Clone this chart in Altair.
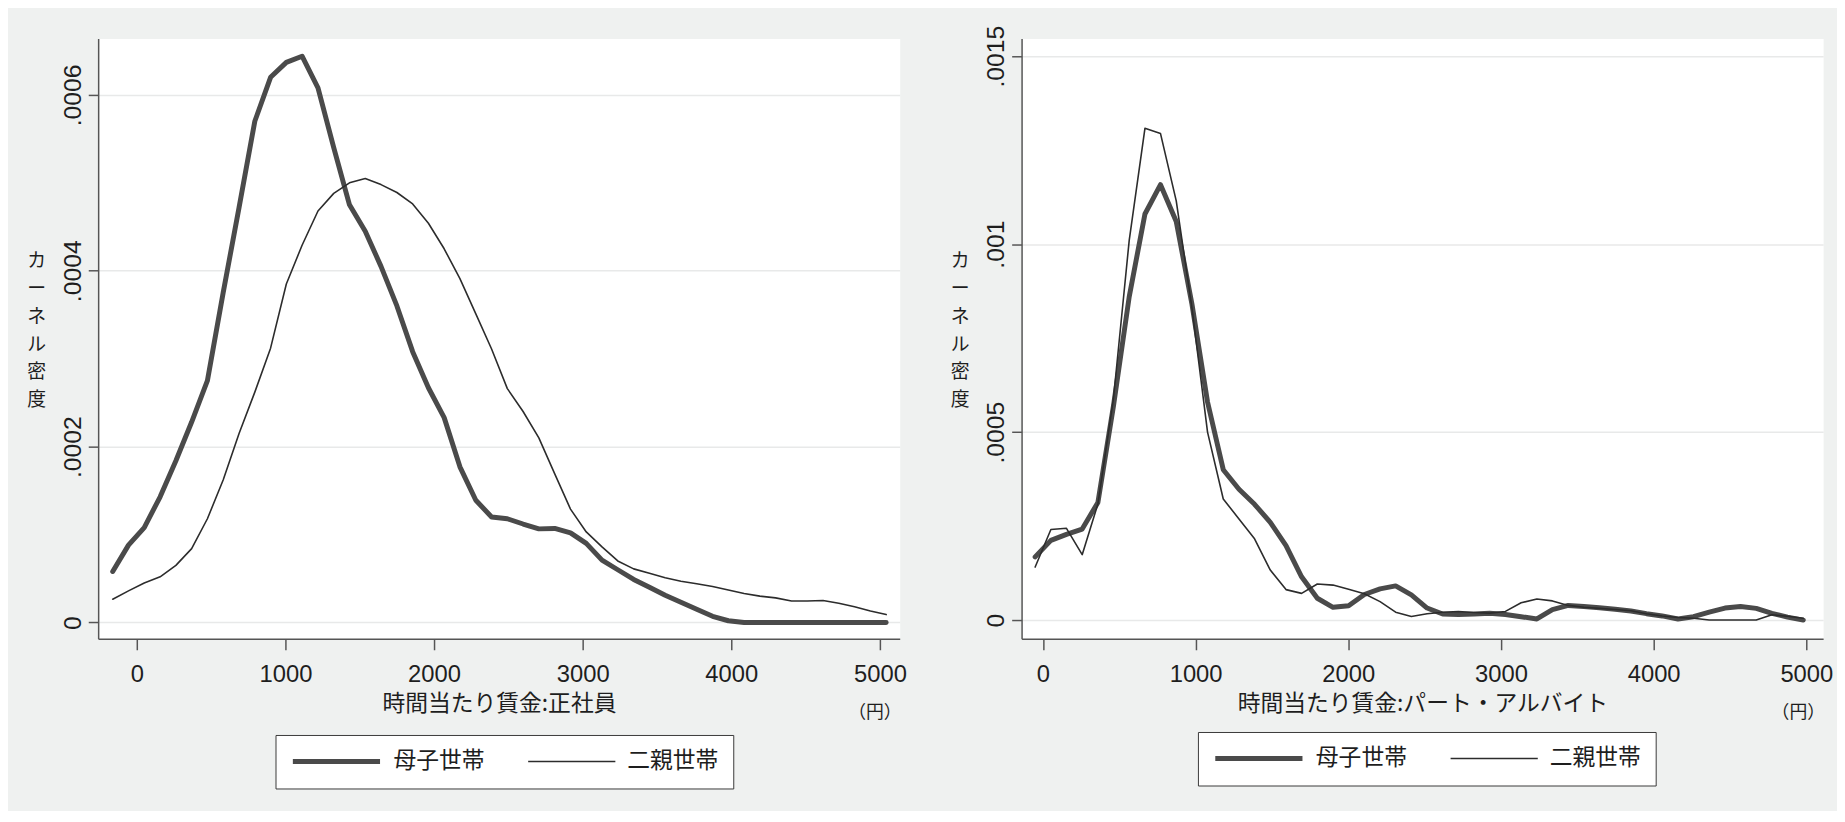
import altair as alt
import pandas as pd

SERIES = ["母子世帯", "二親世帯"]

# ---- left panel: 正社員 ----
x_full = [-162, -56, 50, 157, 263, 369, 475, 581, 688, 794,
          900, 1006, 1112, 1219, 1325, 1431, 1537, 1643, 1750, 1856,
          1962, 2068, 2174, 2281, 2387, 2493, 2599, 2705, 2812, 2918,
          3024, 3130, 3236, 3343, 3449, 3555, 3661, 3767, 3874, 3980,
          4086, 4192, 4298, 4405, 4511, 4617, 4723, 4829, 4936, 5042]
full_mother = [5.8e-5, 8.8e-5, 1.08e-4, 1.43e-4, 1.84e-4, 2.28e-4, 2.75e-4, 3.75e-4, 4.72e-4, 5.70e-4,
               6.20e-4, 6.37e-4, 6.44e-4, 6.08e-4, 5.40e-4, 4.75e-4, 4.45e-4, 4.05e-4, 3.60e-4, 3.08e-4,
               2.67e-4, 2.33e-4, 1.77e-4, 1.39e-4, 1.20e-4, 1.18e-4, 1.12e-4, 1.065e-4, 1.07e-4, 1.02e-4,
               9.0e-5, 7.1e-5, 6.0e-5, 4.9e-5, 4.0e-5, 3.1e-5, 2.3e-5, 1.5e-5, 7e-6, 2e-6,
               0, 0, 0, 0, 0, 0, 0, 0, 0, 0]
full_two = [2.65e-5, 3.6e-5, 4.5e-5, 5.2e-5, 6.5e-5, 8.4e-5, 1.18e-4, 1.62e-4, 2.15e-4, 2.62e-4,
            3.12e-4, 3.85e-4, 4.29e-4, 4.68e-4, 4.88e-4, 5.00e-4, 5.05e-4, 4.98e-4, 4.89e-4, 4.76e-4,
            4.54e-4, 4.25e-4, 3.91e-4, 3.51e-4, 3.11e-4, 2.66e-4, 2.40e-4, 2.10e-4, 1.69e-4, 1.29e-4,
            1.03e-4, 8.6e-5, 7.0e-5, 6.1e-5, 5.6e-5, 5.1e-5, 4.7e-5, 4.4e-5, 4.1e-5, 3.7e-5,
            3.3e-5, 3.0e-5, 2.8e-5, 2.45e-5, 2.45e-5, 2.5e-5, 2.2e-5, 1.8e-5, 1.3e-5, 9e-6]

# ---- right panel: パート・アルバイト ----
x_part = [-51, 52, 154, 257, 360, 462, 565, 668, 770, 873,
          976, 1078, 1181, 1284, 1386, 1489, 1592, 1694, 1797, 1900,
          2002, 2105, 2208, 2310, 2413, 2516, 2618, 2721, 2824, 2926,
          3029, 3132, 3235, 3337, 3440, 3543, 3645, 3748, 3851, 3953,
          4056, 4159, 4261, 4364, 4467, 4569, 4672, 4775, 4877, 4980]
part_mother = [1.68e-4, 2.12e-4, 2.28e-4, 2.42e-4, 3.13e-4, 5.7e-4, 8.6e-4, 1.08e-3, 1.158e-3, 1.06e-3,
               8.4e-4, 5.8e-4, 4.0e-4, 3.48e-4, 3.08e-4, 2.6e-4, 1.98e-4, 1.15e-4, 5.8e-5, 3.4e-5,
               3.8e-5, 6.8e-5, 8.3e-5, 9.1e-5, 6.7e-5, 3.2e-5, 1.6e-5, 1.5e-5, 1.6e-5, 1.8e-5,
               1.5e-5, 9e-6, 3e-6, 2.8e-5, 3.9e-5, 3.6e-5, 3.3e-5, 2.9e-5, 2.4e-5, 1.7e-5,
               1.1e-5, 3e-6, 9e-6, 2.1e-5, 3.2e-5, 3.6e-5, 3.1e-5, 1.8e-5, 8e-6, 0]
part_two = [1.41e-4, 2.41e-4, 2.44e-4, 1.74e-4, 3.09e-4, 5.9e-4, 1.01e-3, 1.308e-3, 1.294e-3, 1.115e-3,
            8.3e-4, 5.0e-4, 3.22e-4, 2.69e-4, 2.16e-4, 1.33e-4, 8.1e-5, 7.1e-5, 9.6e-5, 9.3e-5,
            8.2e-5, 7.0e-5, 4.9e-5, 2.1e-5, 9.6e-6, 1.7e-5, 2.1e-5, 2.3e-5, 2.0e-5, 1.85e-5,
            2.3e-5, 4.6e-5, 5.6e-5, 5.1e-5, 3.9e-5, 3.4e-5, 3.1e-5, 2.8e-5, 2.5e-5, 1.7e-5,
            1.1e-5, 7e-6, 5e-6, 0, 0, 0, 0, 1.4e-5, 1.0e-5, 5e-6]

x_ticks = [0, 1000, 2000, 3000, 4000, 5000]
y_ticks_full = [0, 0.0002, 0.0004, 0.0006]
y_ticks_part = [0, 0.0005, 0.001, 0.0015]
y_title_lines = ["カ", "ー", "ネ", "ル", "密", "度"]
x_title_full = "時間当たり賃金:正社員"
x_title_part = "時間当たり賃金:パート・アルバイト"
unit_label = "（円）"

BG = "#eff1f0"
TXT = "#1e1e1e"
AXC = "#555555"
GRID = "#e8e9e9"
JP = "Noto Sans CJK JP"
NUM = "Liberation Sans, Arial, sans-serif"
W, H = 809, 606


def long_df(xs, a, b):
    rows = []
    for x, v in zip(xs, a):
        rows.append({"wage": x, "density": v, "series": SERIES[0]})
    for x, v in zip(xs, b):
        rows.append({"wage": x, "density": v, "series": SERIES[1]})
    return pd.DataFrame(rows)


def panel(df, xdom, ydom, yticks, xtitle, lx, ly):
    leg = alt.Legend(
        title=None, orient="none", legendX=lx, legendY=ly, direction="horizontal",
        symbolType="stroke", symbolSize=7744, clipHeight=23,
        labelFont=JP, labelFontSize=23, labelColor=TXT, labelOffset=11,
        columnPadding=43, padding=15, strokeColor="#3a3a3a", fillColor="white",
        cornerRadius=0,
    )
    lines = alt.Chart(df).mark_line(strokeCap="round", strokeJoin="round").encode(
        x=alt.X("wage:Q",
                scale=alt.Scale(domain=xdom, nice=False, zero=False),
                axis=alt.Axis(values=x_ticks, format="d", title=xtitle,
                              labelFont=NUM, labelFontSize=24, labelColor=TXT,
                              labelPadding=13, labelFlush=False,
                              tickSize=11, tickColor=AXC, tickWidth=1.5,
                              domainColor=AXC, domainWidth=1.5, grid=False,
                              titleFont=JP, titleFontSize=23, titleFontWeight="normal",
                              titleColor=TXT, titlePadding=6)),
        y=alt.Y("density:Q",
                scale=alt.Scale(domain=ydom, nice=False, zero=False),
                axis=alt.Axis(values=yticks,
                              labelExpr="datum.value == 0 ? '0' : substring(format(datum.value, '~f'), 1)",
                              labelAngle=270, labelAlign="center", labelBaseline="bottom",
                              labelFont=NUM, labelFontSize=25, labelColor=TXT,
                              labelPadding=3, labelFlush=False, labelOverlap=False,
                              tickSize=10, tickColor=AXC, tickWidth=1.5,
                              domainColor=AXC, domainWidth=1.5,
                              grid=True, gridColor=GRID, gridWidth=1.5,
                              title=None)),
        stroke=alt.Stroke("series:N", scale=alt.Scale(domain=SERIES, range=["#4a4a4a", "#2c2c2c"]),
                          legend=leg),
        strokeWidth=alt.StrokeWidth("series:N", scale=alt.Scale(domain=SERIES, range=[5, 1.6]),
                                    legend=leg),
    )
    ytitle = alt.Chart(alt.Data(values=[{}])).mark_text(
        font=JP, fontSize=19, color=TXT, align="center", baseline="top", lineHeight=28,
    ).encode(x=alt.value(-62), y=alt.value(216), text=alt.value(y_title_lines))
    unit = alt.Chart(alt.Data(values=[{"c": unit_label}])).mark_text(
        font=JP, fontSize=18, color=TXT, align="center", baseline="middle",
    ).encode(x=alt.value(784), y=alt.value(681), text="c:N")
    return alt.layer(lines, ytitle, unit).properties(width=W, height=H)


left = panel(long_df(x_full, full_mother, full_two), [-260, 5133], [-1.86e-5, 6.642e-4],
             y_ticks_full, x_title_full, 179, 703)
right = panel(long_df(x_part, part_mother, part_two), [-140, 5110], [-5.0e-5, 1.547e-3],
              y_ticks_part, x_title_part, 178, 700)

chart = (
    alt.hconcat(left, right, spacing=44)
    .resolve_scale(x="independent", y="independent", stroke="independent", strokeWidth="independent")
    .resolve_legend(stroke="independent", strokeWidth="independent")
    .properties(background=BG, padding={"left": 19, "top": 13, "right": 4, "bottom": 18})
    .configure_view(fill="white", strokeOpacity=0)
)

chart.save("out.html", embed_options={"renderer": "svg", "actions": False})
